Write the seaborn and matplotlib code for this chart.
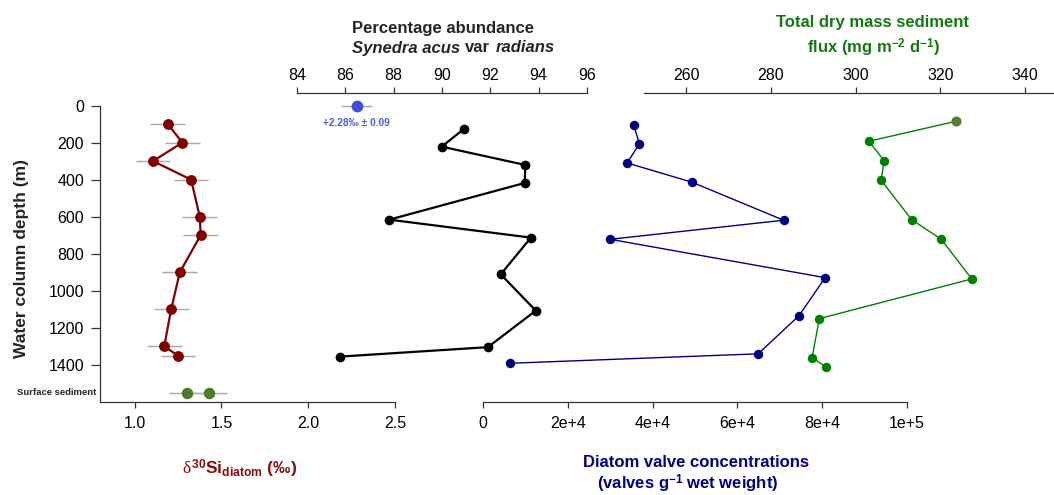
import numpy as np
import pandas as pd
import seaborn as sns
import matplotlib.pyplot as plt

sns.set_style('ticks')
plt.rcParams['font.family'] = ['Liberation Sans', 'DejaVu Sans']
plt.rcParams['mathtext.fontset'] = 'custom'
plt.rcParams['mathtext.rm'] = 'Liberation Sans'
plt.rcParams['mathtext.bf'] = 'Liberation Sans:bold'
plt.rcParams['mathtext.it'] = 'Liberation Serif'

# d30Si diatom (bottom left axis)
si_depth = [100, 200, 300, 400, 600, 700, 900, 1100, 1300, 1350]
si_value = [1.19, 1.275, 1.105, 1.325, 1.375, 1.38, 1.26, 1.21, 1.17, 1.25]
si_err = 0.1
sed_depth = [1550, 1550]
sed_value = [1.30, 1.43]
sed_err = 0.1
top_depth = [0]
top_value = [2.28]
top_err = 0.09

# Synedra acus var radians percentage (top left axis)
pct_depth = [125, 222, 321, 418, 616, 713, 911, 1107, 1304, 1355]
pct_value = [90.92, 89.99, 93.45, 93.42, 87.82, 93.68, 92.43, 93.88, 91.90, 85.79]

# diatom valve concentrations (bottom right axis)
conc_depth = [103, 206, 310, 414, 619, 722, 929, 1135, 1340, 1391]
conc_value = [35500, 36900, 34000, 49300, 70900, 30000, 80700, 74500, 64900, 6400]

# total dry mass flux (top right axis)
flux_depth = [85, 193, 298, 404, 616, 722, 936, 1150, 1360, 1412]
flux_value = [323.7, 303.1, 306.7, 306.0, 313.2, 320.2, 327.4, 291.4, 289.7, 293.0]

depth_ticks = [0, 200, 400, 600, 800, 1000, 1200, 1400]
si_ticks = [1.0, 1.5, 2.0, 2.5]
pct_ticks = [84, 86, 88, 90, 92, 94, 96]
conc_ticks = [0, 20000, 40000, 60000, 80000, 100000]
conc_labels = ['0', '2e+4', '4e+4', '6e+4', '8e+4', '1e+5']
flux_ticks = [260, 280, 300, 320, 340]

W, H = 1054, 495
fig = plt.figure(figsize=(W / 100, H / 100), dpi=100)

def box(x0, x1):
    return [x0 / W, 1 - 402 / H, (x1 - x0) / W, (402 - 105.5) / H]

ax_si = fig.add_axes(box(100, 395))
ax_pct = fig.add_axes(box(297, 587))
ax_conc = fig.add_axes(box(483, 907))
ax_flux = fig.add_axes(box(644, 1054))

spc = '#333333'
for ax in [ax_si, ax_pct, ax_conc, ax_flux]:
    ax.set_ylim(1600, 0)
    ax.patch.set_alpha(0)
    for s in ax.spines.values():
        s.set_visible(False)
        s.set_color(spc)
        s.set_linewidth(0.9)
    ax.tick_params(colors=spc, labelcolor='black', labelsize=11.5, width=0.9)

for ax in [ax_pct, ax_conc, ax_flux]:
    ax.tick_params(left=False, labelleft=False)
    ax.set_yticks([])

# --- d30Si axis
ax_si.spines['left'].set_visible(True)
ax_si.spines['bottom'].set_visible(True)
ax_si.set_xlim(0.8, 2.5)
ax_si.set_xticks(si_ticks)
ax_si.set_xticklabels([f'{t:.1f}' for t in si_ticks])
ax_si.set_yticks(depth_ticks)
ax_si.tick_params(axis='y', length=6.5, pad=5)
ax_si.tick_params(axis='x', length=4.3, pad=5.5)

ax_si.errorbar(si_value, si_depth, xerr=si_err, fmt='none', ecolor='#a8a8a8', elinewidth=1, zorder=1)
ax_si.errorbar(sed_value, sed_depth, xerr=sed_err, fmt='none', ecolor='#a8a8a8', elinewidth=1, zorder=1)
ax_si.errorbar(top_value, top_depth, xerr=top_err, fmt='none', ecolor='#a8a8a8', elinewidth=1, zorder=1, clip_on=False)
df_si = pd.DataFrame({'v': si_value, 'd': si_depth})
sns.lineplot(data=df_si, x='v', y='d', sort=False, estimator=None, ax=ax_si,
             color='#800000', lw=1.6, marker='o', markersize=7.8, markeredgewidth=0, zorder=3)
sns.scatterplot(x=sed_value, y=sed_depth, ax=ax_si, color='#4e7d2a', s=68, linewidth=0, zorder=3)
sns.scatterplot(x=top_value, y=top_depth, ax=ax_si, color='#3f4fd8', s=72, linewidth=0, zorder=3, clip_on=False)
ax_si.text(2.28, 92, '+2.28‰ ± 0.09', color='#4b5cd6', fontsize=7.3, fontweight='bold',
           ha='center', va='center')
ax_si.text(-0.011, 1550, 'Surface sediment', transform=ax_si.get_yaxis_transform(),
           ha='right', va='center', fontsize=6.8, fontweight='bold')
ax_si.set_xlabel('')
ax_si.set_ylabel('')

# --- percentage axis (top)
ax_pct.spines['top'].set_visible(True)
ax_pct.spines['top'].set_position(('outward', 9))
ax_pct.set_xlim(84, 96)
ax_pct.xaxis.tick_top()
ax_pct.set_xticks(pct_ticks)
ax_pct.tick_params(axis='x', length=4.3, pad=3)
df_pct = pd.DataFrame({'v': pct_value, 'd': pct_depth})
sns.lineplot(data=df_pct, x='v', y='d', sort=False, estimator=None, ax=ax_pct,
             color='black', lw=1.6, marker='o', markersize=7, markeredgewidth=0)
ax_pct.set_xlabel('')
ax_pct.set_ylabel('')

# --- concentration axis (bottom)
ax_conc.spines['bottom'].set_visible(True)
ax_conc.set_xlim(0, 100000)
ax_conc.set_xticks(conc_ticks)
ax_conc.set_xticklabels(conc_labels)
ax_conc.tick_params(axis='x', length=4.3, pad=5.5)
df_conc = pd.DataFrame({'v': conc_value, 'd': conc_depth})
sns.lineplot(data=df_conc, x='v', y='d', sort=False, estimator=None, ax=ax_conc,
             color='#00007f', lw=1, marker='o', markersize=6.8, markeredgewidth=0)
ax_conc.set_xlabel('')
ax_conc.set_ylabel('')

# --- flux axis (top)
ax_flux.spines['top'].set_visible(True)
ax_flux.spines['top'].set_position(('outward', 9))
ax_flux.set_xlim(250, 250 + 410 / 4.235)
ax_flux.xaxis.tick_top()
ax_flux.set_xticks(flux_ticks)
ax_flux.tick_params(axis='x', length=4.3, pad=3)
df_flux = pd.DataFrame({'v': flux_value, 'd': flux_depth})
sns.lineplot(data=df_flux, x='v', y='d', sort=False, estimator=None, ax=ax_flux,
             color='#008000', lw=1, marker='o', markersize=6.8, markeredgewidth=0)
sns.scatterplot(x=flux_value[:1], y=flux_depth[:1], ax=ax_flux, color='#557f2f', s=50, linewidth=0, zorder=4)
ax_flux.set_xlabel('')
ax_flux.set_ylabel('')

# --- labels
def ft(x, y, s, **kw):
    fig.text(x / W, 1 - y / H, s, **kw)

ft(22, 258, 'Water column depth (m)', rotation=90, ha='center', va='center',
   fontsize=12.5, fontweight='bold')
ft(443, 33, 'Percentage abundance', ha='center', va='baseline', fontsize=12, fontweight='bold')
ft(351.7, 52.5, 'Synedra acus', ha='left', va='baseline', fontsize=12, fontweight='bold', style='italic')
ft(465, 52.5, 'var', ha='left', va='baseline', fontsize=12, fontweight='bold')
ft(495.7, 52.5, 'radians', ha='left', va='baseline', fontsize=12, fontweight='bold', style='italic')

green_t = '#137a13'
ft(872, 26.5, 'Total dry mass sediment', ha='center', va='baseline', fontsize=12,
   fontweight='bold', color=green_t)
ft(874, 53, r'flux (mg m$^{\mathbf{-2}}$ d$^{\mathbf{-1}}$)', ha='center', va='baseline',
   fontsize=12, fontweight='bold', color=green_t)

ft(240, 474, r'$\delta^{\mathbf{30}}\mathbf{Si}_{\mathbf{diatom}}$ (‰)', ha='center', va='baseline',
   fontsize=12.5, fontweight='bold', color='#8b0a0a')
ft(696, 467, 'Diatom valve concentrations', ha='center', va='baseline', fontsize=12,
   fontweight='bold', color='#000080')
ft(688, 489, r'(valves g$^{\mathbf{-1}}$ wet weight)', ha='center', va='baseline', fontsize=12,
   fontweight='bold', color='#000080')

fig.savefig('out.png', dpi=100)
